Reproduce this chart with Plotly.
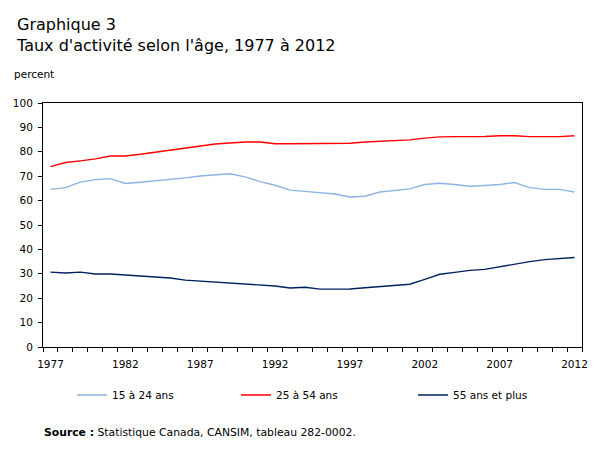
import plotly.graph_objects as go

years = list(range(1977, 2013))
age_15_24 = [64.6, 65.3, 67.6, 68.6, 69.0, 67.0, 67.5, 68.0, 68.6, 69.3, 70.1, 70.5, 71.0, 69.7, 67.8,
             66.3, 64.3, 63.8, 63.2, 62.7, 61.5, 61.8, 63.5, 64.3, 64.8, 66.6, 67.1, 66.6, 65.9, 66.2,
             66.6, 67.4, 65.3, 64.6, 64.6, 63.5]
age_25_54 = [73.9, 75.6, 76.3, 77.1, 78.3, 78.3, 79.0, 79.8, 80.6, 81.5, 82.4, 83.2, 83.6, 84.0, 84.0,
             83.3, 83.3, 83.3, 83.3, 83.3, 83.5, 84.0, 84.3, 84.6, 84.9, 85.6, 86.1, 86.2, 86.2, 86.3,
             86.6, 86.6, 86.2, 86.2, 86.2, 86.6]
age_55_plus = [30.7, 30.3, 30.7, 29.9, 29.9, 29.5, 29.1, 28.7, 28.3, 27.4, 27.0, 26.6, 26.2, 25.8, 25.4,
               25.0, 24.2, 24.5, 23.7, 23.6, 23.8, 24.3, 24.7, 25.1, 25.7, 27.7, 29.8, 30.6, 31.4, 31.8,
               32.9, 34.2, 35.0, 35.8, 36.2, 36.7]
series_names = ["15 à 24 ans", "25 à 54 ans", "55 ans et plus"]
series_colors = ["#8DB3E2", "#FF0000", "#002060"]

FONT = "DejaVu Sans"
W, H = 607, 456
PL, PR, PT, PB = 43, 582, 103, 347  # plot area in pixels

fig = go.Figure()
legend_ids = ["legend", "legend2", "legend3"]
legend_left = [72, 236, 413]
for name, vals, col, lid in zip(series_names, [age_15_24, age_25_54, age_55_plus], series_colors, legend_ids):
    fig.add_trace(go.Scatter(x=years, y=vals, name=name, mode="lines", legend=lid,
                             line=dict(color=col, width=1.4)))

legend_style = dict(orientation="h", xref="container", yref="container",
                    xanchor="left", yanchor="middle",
                    font=dict(family=FONT, size=10.5, color="black"),
                    bgcolor="rgba(0,0,0,0)", borderwidth=0)

layout_legends = {}
for lid, lx in zip(legend_ids, legend_left):
    layout_legends[lid] = dict(legend_style, x=lx / W, y=(H - 395) / H)

fig.update_layout(
    width=W, height=H,
    margin=dict(l=PL, r=W - PR, t=PT, b=H - PB, autoexpand=False),
    paper_bgcolor="white", plot_bgcolor="white",
    font=dict(family=FONT, size=10.5, color="black"),
    showlegend=True,
    xaxis=dict(range=[1976.5, 2012.5], tickmode="linear", tick0=1977, dtick=5,
               ticks="outside", ticklen=0, ticklabelstandoff=7,
               showline=True, linecolor="black", linewidth=1, mirror=True,
               showgrid=False, zeroline=False,
               minor=dict(ticks="outside", ticklen=4, tickcolor="black", tick0=1976.5, dtick=1,
                          showgrid=False),
               tickfont=dict(family=FONT, size=10.5, color="black")),
    yaxis=dict(range=[0, 100], tickmode="linear", tick0=0, dtick=10,
               ticks="outside", ticklen=4, tickcolor="black", ticklabelstandoff=3,
               showline=True, linecolor="black", linewidth=1, mirror=True,
               showgrid=False, zeroline=False,
               tickfont=dict(family=FONT, size=10.5, color="black")),
    **layout_legends,
)

pw, ph = PR - PL, PB - PT


def ax(px):
    return (px - PL) / pw


def ay(py):
    return (PB - py) / ph


fig.add_annotation(xref="x domain", yref="y domain", x=ax(14), y=ay(35),
                   xanchor="left", yanchor="middle", showarrow=False, align="left",
                   text="Graphique 3<br>Taux d'activité selon l'âge, 1977 à 2012",
                   font=dict(family=FONT, size=16, color="black"))
fig.add_annotation(xref="x domain", yref="y domain", x=ax(12), y=ay(74),
                   xanchor="left", yanchor="middle", showarrow=False,
                   text="percent", font=dict(family=FONT, size=10.5, color="black"))
fig.add_annotation(xref="x domain", yref="y domain", x=ax(42), y=ay(432),
                   xanchor="left", yanchor="middle", showarrow=False,
                   text="<b>Source :</b> Statistique Canada, CANSIM, tableau 282-0002.",
                   font=dict(family=FONT, size=10.8, color="black"))

fig.write_html("out.html")
